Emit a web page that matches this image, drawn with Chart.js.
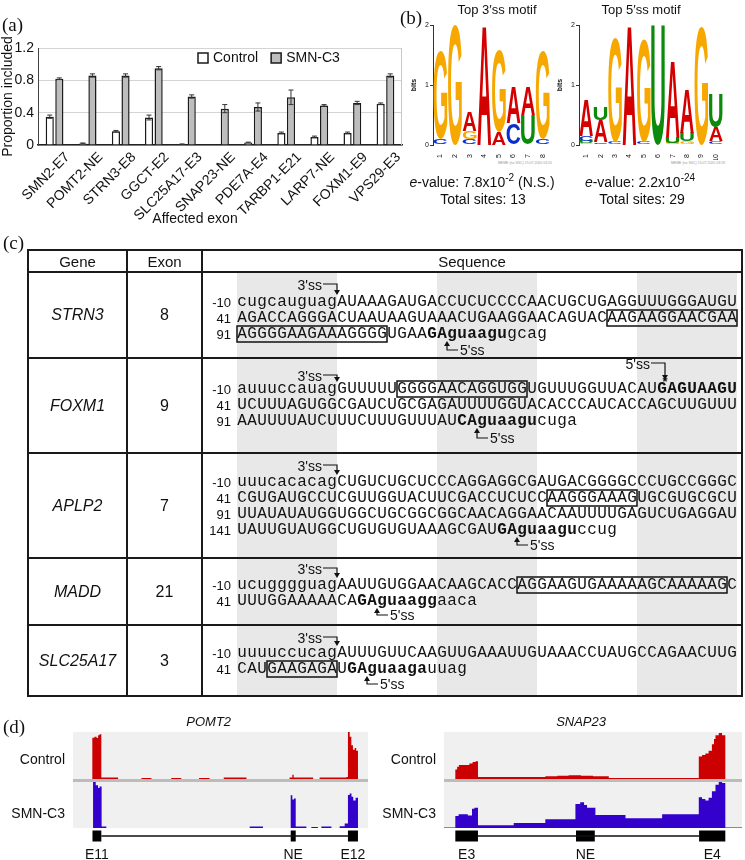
<!DOCTYPE html>
<html>
<head>
<meta charset="utf-8">
<script src="https://cdn.jsdelivr.net/npm/chart.js@4.4.1/dist/chart.umd.min.js"></script>
<style>
  body { margin: 0; background: #fff; }
  #page { position: relative; width: 745px; height: 860px; overflow: hidden; font-family: "Liberation Sans", Arial, sans-serif; color: #111; }
  canvas { position: absolute; }
  .t { position: absolute; white-space: nowrap; line-height: 1; }
  .panel { font-family: "Liberation Serif", "Times New Roman", serif; font-size: 19px; }
  .seq span { display: inline-block; width: 10px; text-align: center; }
  sup { font-size: 10px; line-height: 0; vertical-align: 6px; }
</style>
</head>
<body>
<div id="page"></div>
<script>
// (a) inclusion of affected exons
const exons = ["SMN2-E7", "POMT2-NE", "STRN3-E8", "GGCT-E2", "SLC25A17-E3", "SNAP23-NE", "PDE7A-E4", "TARBP1-E21", "LARP7-NE", "FOXM1-E9", "VPS29-E3"];
const controlVals = [0.35, 0.02, 0.17, 0.34, 0.01, 0.0, 0.03, 0.15, 0.10, 0.15, 0.51];
const controlErr = [0.02, 0.005, 0.01, 0.03, 0.003, 0, 0.005, 0.01, 0.01, 0.01, 0.01];
const smnVals = [0.82, 0.86, 0.86, 0.95, 0.60, 0.45, 0.47, 0.59, 0.49, 0.52, 0.86];
const smnErr = [0.01, 0.02, 0.02, 0.02, 0.02, 0.05, 0.05, 0.09, 0.01, 0.02, 0.02];
const yTicks = [0, 0.4, 0.8, 1.2];

// (b) motif logos: letters stacked bottom -> top, heights in bits
const logo3Letters = ["CG", "G", "CGA", "A", "AG", "CA", "UA", "CG"];
const logo3Heights = [[0.1, 1.48], [2.0], [0.1, 0.14, 0.33], [2.0], [0.22, 1.36], [0.36, 0.61], [0.5, 0.47], [0.1, 1.47]];
const logo5Letters = ["GUCA", "GCAU", "CG", "A", "CG", "U", "GUA", "GUA", "G", "CAU"];
const logo5Heights = [[0.03, 0.04, 0.08, 0.6], [0.02, 0.03, 0.36, 0.22], [0.04, 1.74], [2.0], [0.05, 1.72], [2.0], [0.04, 0.1, 1.28], [0.06, 0.14, 0.74], [1.98], [0.06, 0.24, 0.55]];

// (d) read coverage, [position % of window, relative height] step points
const pomt2Ctrl = [[0, 0], [6.55, 0.88], [7.3, 0.9], [8.0, 0.87], [8.5, 0.93], [9.0, 0.95], [9.6, 0.03], [15.3, 0],
  [23.2, 0.02], [26.6, 0], [33.3, 0.02], [36.7, 0], [42.7, 0.02], [46.3, 0], [51.1, 0.03], [58.8, 0],
  [73.4, 0.03], [74.35, 0.09], [74.8, 0.03], [81.4, 0], [83.6, 0.03], [92.7, 0.04],
  [93.2, 1.0], [93.8, 0.9], [94.35, 0.72], [94.9, 0.62], [95.5, 0.66], [96.0, 0.6], [96.6, 0], [100, 0]];
const pomt2Smn = [[0, 0], [6.8, 1.0], [7.7, 0.93], [8.5, 0.87], [9.0, 0.9], [9.7, 0.03], [11.3, 0],
  [59.9, 0.03], [64.4, 0], [73.8, 0.71], [74.35, 0.62], [74.9, 0.64], [75.5, 0.03], [79.1, 0], [80.8, 0.02], [83.0, 0],
  [84.2, 0.03], [87.6, 0], [90.4, 0.04], [92.1, 0.1], [93.2, 0.72], [93.8, 0.75], [94.4, 0.68], [95.0, 0.6], [95.8, 0.66], [96.6, 0], [100, 0]];
const snapCtrl = [[0, 0], [3.8, 0.2], [4.4, 0.26], [5.0, 0.3], [7.0, 0.3], [8.5, 0.33], [9.6, 0.36], [10.6, 0.38], [11.4, 0.04],
  [34.0, 0.06], [38.0, 0.07], [41.8, 0.08], [46.0, 0.07], [50.0, 0.06], [55.3, 0.02],
  [85.5, 0.48], [86.6, 0.51], [87.7, 0.54], [88.8, 0.6], [89.9, 0.74], [90.6, 0.85], [91.1, 0.93], [92.2, 0.98], [93.3, 0.93], [94.4, 0], [100, 0]];
const snapSmn = [[0, 0.01], [3.8, 0.26], [4.9, 0.3], [6.5, 0.3], [8.0, 0.27], [9.4, 0.42], [10.2, 0.44], [11.4, 0.06],
  [23.4, 0.11], [34.0, 0.19], [44.1, 0.52], [45.7, 0.56], [47.0, 0.5], [48.0, 0.44], [50.8, 0.28], [60.9, 0.21], [73.2, 0.3],
  [85.5, 0.67], [86.6, 0.63], [87.7, 0.6], [88.8, 0.66], [89.9, 0.8], [91.1, 0.94], [92.2, 1.0], [93.3, 0.98], [94.4, 0.01], [100, 0.01]];
const pomt2Exons = [[6.6, 9.6], [73.8, 75.5], [93.2, 96.6]];
const pomt2ExonNames = ["E11", "NE", "E12"];
const snapExons = [[3.8, 11.4], [44.3, 50.6], [85.6, 94.4]];
const snapExonNames = ["E3", "NE", "E4"];

Chart.defaults.font.family = '"Liberation Sans", Arial, sans-serif';
Chart.defaults.color = "#111";

const page = document.getElementById("page");

function txt(s, x, y, align, css) {
  const d = document.createElement("div");
  d.className = "t";
  d.innerHTML = s;
  d.style.left = x + "px";
  d.style.top = y + "px";
  const tx = align === "center" ? "-50%" : align === "right" ? "-100%" : "0";
  d.style.transform = "translate(" + tx + ",-50%)";
  if (css) d.style.cssText += css;
  page.appendChild(d);
  return d;
}

function makeCanvas(x, y, w, h) {
  const c = document.createElement("canvas");
  c.width = w;
  c.height = h;
  c.style.left = x + "px";
  c.style.top = y + "px";
  page.appendChild(c);
  return c;
}

// ---------- panel (a) ----------
const errorBars = {
  id: "errorBars",
  afterDatasetsDraw(chart) {
    const ctx = chart.ctx, y = chart.scales.y;
    chart.data.datasets.forEach((ds, i) => {
      chart.getDatasetMeta(i).data.forEach((bar, j) => {
        const e = ds.errors[j];
        if (!e) return;
        const v = ds.data[j];
        const top = y.getPixelForValue(v + e), bot = y.getPixelForValue(Math.max(0, v - e));
        ctx.save();
        ctx.strokeStyle = "#333";
        ctx.lineWidth = 1;
        ctx.beginPath();
        ctx.moveTo(bar.x, top); ctx.lineTo(bar.x, bot);
        ctx.moveTo(bar.x - 2.5, top); ctx.lineTo(bar.x + 2.5, top);
        ctx.moveTo(bar.x - 2.5, bot); ctx.lineTo(bar.x + 2.5, bot);
        ctx.stroke();
        ctx.restore();
      });
    });
  }
};

const xLabels = {
  id: "xLabels",
  afterDraw(chart) {
    const { ctx, chartArea } = chart, x = chart.scales.x;
    ctx.save();
    ctx.font = '14px "Liberation Sans", Arial';
    ctx.fillStyle = "#111";
    ctx.textAlign = "right";
    ctx.textBaseline = "middle";
    chart.data.labels.forEach((lab, i) => {
      ctx.save();
      ctx.translate(x.getPixelForValue(i) + 13, chartArea.bottom + 10);
      ctx.rotate(-Math.PI / 4);
      ctx.fillText(lab, 0, 0);
      ctx.restore();
    });
    ctx.restore();
  }
};

const legendBox = {
  id: "legendBox",
  afterDraw(chart) {
    const { ctx, chartArea } = chart;
    const y = chartArea.top + 10;
    let x = chartArea.left + 160;
    ctx.save();
    ctx.font = '14px "Liberation Sans", Arial';
    ctx.textBaseline = "middle";
    ctx.lineWidth = 1.5;
    chart.data.datasets.forEach((ds) => {
      ctx.fillStyle = ds.backgroundColor;
      ctx.strokeStyle = "#1a1a1a";
      ctx.fillRect(x, y - 5, 10, 10);
      ctx.strokeRect(x, y - 5, 10, 10);
      ctx.fillStyle = "#111";
      ctx.fillText(ds.label, x + 15, y);
      x += ctx.measureText(ds.label).width + 28;
    });
    ctx.restore();
  }
};

const rightBorder = {
  id: "rightBorder",
  afterDraw(chart) {
    const { ctx, chartArea } = chart;
    ctx.save();
    ctx.strokeStyle = "#c8c8c8";
    ctx.lineWidth = 1;
    ctx.beginPath();
    ctx.moveTo(chartArea.right - 0.5, chartArea.top);
    ctx.lineTo(chartArea.right - 0.5, chartArea.bottom);
    ctx.stroke();
    ctx.restore();
  }
};

new Chart(makeCanvas(0, 0, 410, 225), {
  type: "bar",
  data: {
    labels: exons,
    datasets: [
      { label: "Control", data: controlVals, errors: controlErr, backgroundColor: "#ffffff", borderColor: "#1a1a1a", borderWidth: 1.5 },
      { label: "SMN-C3", data: smnVals, errors: smnErr, backgroundColor: "#bdbdbd", borderColor: "#1a1a1a", borderWidth: 1.5 }
    ]
  },
  options: {
    responsive: false,
    animation: false,
    layout: { padding: { top: 48, right: 8 } },
    datasets: { bar: { categoryPercentage: 0.58, barPercentage: 0.85 } },
    plugins: { legend: { display: false }, tooltip: { enabled: false } },
    scales: {
      x: {
        grid: { display: false },
        border: { color: "#222", width: 1.5 },
        ticks: { display: false },
        afterFit: (s) => { s.height = 80; }
      },
      y: {
        min: 0, max: 1.2,
        ticks: {
          stepSize: 0.2, padding: 4, font: { size: 14 },
          callback: (v) => yTicks.find((t) => Math.abs(t - v) < 1e-6) !== undefined ? String(Math.round(v * 10) / 10) : ""
        },
        grid: { color: "#d4d4d4", drawTicks: false },
        border: { color: "#444", width: 1 },
        title: { display: true, text: "Proportion included", font: { size: 14 }, padding: 0 },
        afterFit: (s) => { s.width = 38; }
      }
    }
  },
  plugins: [errorBars, xLabels, legendBox, rightBorder]
});

txt("(a)", 2, 24, "left", "").className = "t panel";
txt("Affected exon", 195, 218, "center", "font-size:14px;");

// ---------- panel (b) ----------
const baseColors = { A: "#d40000", C: "#0a2ecc", G: "#f7a800", U: "#0b8a0b" };

const logoLetters = {
  id: "logoLetters",
  afterDatasetsDraw(chart) {
    const ctx = chart.ctx;
    chart.data.datasets.forEach((ds, i) => {
      chart.getDatasetMeta(i).data.forEach((el, j) => {
        const ch = ds.letters[j];
        if (!ch) return;
        const p = el.getProps(["x", "y", "base", "width"], true);
        const h = p.base - p.y;
        if (h < 0.5) return;
        ctx.save();
        ctx.font = 'bold 100px "Liberation Sans", Arial';
        ctx.textAlign = "left";
        ctx.textBaseline = "alphabetic";
        const m = ctx.measureText(ch);
        const gw = m.actualBoundingBoxLeft + m.actualBoundingBoxRight;
        const gh = m.actualBoundingBoxAscent + m.actualBoundingBoxDescent;
        ctx.translate(p.x - p.width / 2, p.y);
        ctx.scale(p.width / gw, h / gh);
        ctx.fillStyle = baseColors[ch];
        ctx.fillText(ch, m.actualBoundingBoxLeft, m.actualBoundingBoxAscent);
        ctx.restore();
      });
    });
  }
};

function logoChart(cv, letters, heights) {
  const depth = Math.max(...heights.map((h) => h.length));
  const datasets = [];
  for (let k = 0; k < depth; k++) {
    datasets.push({
      data: heights.map((h) => h[k] || 0),
      letters: letters.map((l) => l[k] || ""),
      backgroundColor: "rgba(0,0,0,0)",
      borderWidth: 0,
      barPercentage: 0.94,
      categoryPercentage: 1
    });
  }
  new Chart(cv, {
    type: "bar",
    data: { labels: heights.map((_, i) => String(i + 1)), datasets },
    options: {
      responsive: false,
      animation: false,
      layout: { padding: { top: 10, right: 5 } },
      plugins: { legend: { display: false }, tooltip: { enabled: false } },
      scales: {
        x: {
          stacked: true,
          grid: { display: false },
          border: { display: false },
          ticks: { font: { size: 7 }, minRotation: 90, maxRotation: 90, padding: 1, autoSkip: false },
          afterFit: (s) => { s.height = 15; }
        },
        y: {
          stacked: true, min: 0, max: 2,
          ticks: { stepSize: 1, font: { size: 7 }, padding: 1 },
          grid: { drawOnChartArea: false, tickLength: 3, color: "#333" },
          border: { color: "#333" },
          title: { display: true, text: "bits", font: { size: 7, weight: "bold" }, padding: 0 },
          afterFit: (s) => { s.width = 23; }
        }
      }
    },
    plugins: [logoLetters]
  });
}

logoChart(makeCanvas(410, 15, 145, 145), logo3Letters, logo3Heights);
logoChart(makeCanvas(556, 15, 172, 145), logo5Letters, logo5Heights);

txt("(b)", 400, 17, "left", "").className = "t panel";
txt("Top 3\u2032ss motif", 497, 9, "center", "font-size:13px;");
txt("Top 5\u2032ss motif", 641, 9, "center", "font-size:13px;");
txt("MEME (no SSC) 15.07.2020 03:20", 552, 164, "right", "font-size:3.5px;color:#999;");
txt("MEME (no SSC) 15.07.2020 03:18", 725, 164, "right", "font-size:3.5px;color:#999;");
txt("<i>e</i>-value: 7.8x10<sup>-2</sup> (N.S.)", 482, 182, "center", "font-size:14px;");
txt("Total sites: 13", 483, 199, "center", "font-size:14px;");
txt("<i>e</i>-value: 2.2x10<sup>-24</sup>", 640, 182, "center", "font-size:14px;");
txt("Total sites: 29", 642, 199, "center", "font-size:14px;");

// ---------- panel (c) ----------
const SEQ_X = 237;
const seqRows = [
  { gene: "STRN3", exon: "8", top: 272, bottom: 358, ss3: 285,
    lines: [
      { num: "-10", y: 302, s: "cugcauguagAUAAAGAUGACCUCUCCCCAACUGCUGAGGUUUGGGAUGU" },
      { num: "41", y: 318, s: "AGACCAGGGACUAAUAAGUAAACUGAAGGAACAGUACAAGAAGGAACGAA", box: [37, 13] },
      { num: "91", y: 334, s: "AGGGGAAGAAAGGGGUGAAGAguaagugcag", box: [0, 15], bold: [19, 8], ss5: 21 }
    ], ss5y: 350 },
  { gene: "FOXM1", exon: "9", top: 358, bottom: 453, ss3: 376, top5: { y: 364, idx: 42.8 },
    lines: [
      { num: "-10", y: 389, s: "auuuccauagGUUUUUGGGGAACAGGUGGUGUUUGGUUACAUGAGUAAGU", box: [16, 13], bold: [42, 8] },
      { num: "41", y: 405, s: "UCUUUAGUGGCGAUCUGCGAGAUUUUGGUACACCCAUCACCAGCUUGUUU" },
      { num: "91", y: 421, s: "AAUUUUAUCUUUCUUUGUUUAUCAguaagucuga", bold: [22, 8], ss5: 24 }
    ], ss5y: 438 },
  { gene: "APLP2", exon: "7", top: 453, bottom: 558, ss3: 466,
    lines: [
      { num: "-10", y: 482, s: "uuucacacagCUGUCUGCUCCCAGGAGGCGAUGACGGGGCCCUGCCGGGC" },
      { num: "41", y: 498, s: "CGUGAUGCCUCGUUGGUACUUCGACCUCUCCAAGGGAAAGUGCGUGCGCU", box: [31, 9] },
      { num: "91", y: 514, s: "UUAUAUAUGGUGGCUGCGGCGGCAACAGGAACAAUUUUGAGUCUGAGGAU" },
      { num: "141", y: 530, s: "UAUUGUAUGGCUGUGUGUAAAGCGAUGAguaaguccug", bold: [26, 8], ss5: 28 }
    ], ss5y: 545 },
  { gene: "MADD", exon: "21", top: 558, bottom: 625, ss3: 569,
    lines: [
      { num: "-10", y: 585, s: "ucugggguagAAUUGUGGAACAAGCACCAGGAAGUGAAAAAGCAAAAAGC", box: [28, 21] },
      { num: "41", y: 601, s: "UUUGGAAAAACAGAguaaggaaca", bold: [12, 8], ss5: 14 }
    ], ss5y: 615 },
  { gene: "SLC25A17", exon: "3", top: 625, bottom: 696, ss3: 638,
    lines: [
      { num: "-10", y: 653, s: "uuuuccucagAUUUGUUCAAGUUGAAAUUGUAAACCUAUGCCAGAACUUG" },
      { num: "41", y: 669, s: "CAUGAAGAGAUGAguaagauuag", box: [3, 7], bold: [11, 8], ss5: 13 }
    ], ss5y: 684 }
];

const NS = "http://www.w3.org/2000/svg";
const svg = document.createElementNS(NS, "svg");
svg.setAttribute("width", 745);
svg.setAttribute("height", 860);
svg.style.position = "absolute";
svg.style.left = "0";
svg.style.top = "0";
page.appendChild(svg);

function sv(tag, attrs) {
  const e = document.createElementNS(NS, tag);
  for (const k in attrs) e.setAttribute(k, attrs[k]);
  svg.appendChild(e);
  return e;
}

const TAB = { left: 28, right: 742, top: 250, head: 272, bottom: 696, c1: 127, c2: 202 };

// alternating 10-nt shading
for (let b = 0; b < 5; b += 2) {
  sv("rect", { x: SEQ_X + b * 100, y: TAB.head, width: 100, height: TAB.bottom - TAB.head, fill: "#e8e8e8" });
}

function seqLine(line) {
  const d = document.createElement("div");
  d.className = "t seq";
  d.style.left = SEQ_X + "px";
  d.style.top = (line.y - 8) + "px";
  d.style.font = '16px/16px "Liberation Mono", monospace';
  for (let i = 0; i < line.s.length; i++) {
    const sp = document.createElement("span");
    sp.textContent = line.s[i];
    if (line.bold && i >= line.bold[0] && i < line.bold[0] + line.bold[1]) sp.style.fontWeight = "bold";
    d.appendChild(sp);
  }
  page.appendChild(d);
  txt(line.num, 231, line.y, "right", "font-size:13px;");
  if (line.box) {
    sv("rect", { x: SEQ_X + line.box[0] * 10, y: line.y - 8, width: line.box[1] * 10, height: 16, fill: "none", stroke: "#111", "stroke-width": 1.5 });
  }
}

function arrowDown(x, yFrom, yTo, textY) {
  sv("path", { d: "M" + (x - 14) + " " + textY + " H" + x + " V" + (yTo - 4), fill: "none", stroke: "#111", "stroke-width": 1.2 });
  sv("polygon", { points: (x - 3) + "," + (yTo - 5) + " " + (x + 3) + "," + (yTo - 5) + " " + x + "," + yTo, fill: "#111" });
}

function arrowUp(x, tip, textY) {
  sv("path", { d: "M" + x + " " + (tip + 4) + " V" + textY + " H" + (x + 11), fill: "none", stroke: "#111", "stroke-width": 1.2 });
  sv("polygon", { points: (x - 3) + "," + (tip + 5) + " " + (x + 3) + "," + (tip + 5) + " " + x + "," + tip, fill: "#111" });
}

seqRows.forEach((row) => {
  const mid = (row.top + row.bottom) / 2;
  txt(row.gene, (TAB.left + TAB.c1) / 2, mid, "center", "font-size:16px;font-style:italic;");
  txt(row.exon, (TAB.c1 + TAB.c2) / 2, mid, "center", "font-size:16px;");
  // 3'ss marker at intron/exon boundary
  const x3 = SEQ_X + 100;
  txt("3'ss", x3 - 15, row.ss3, "right", "font-size:14px;");
  arrowDown(x3, row.ss3, row.lines[0].y - 7, row.ss3 - 1);
  if (row.top5) {
    const xt = SEQ_X + row.top5.idx * 10;
    txt("5'ss", xt - 15, row.top5.y, "right", "font-size:14px;");
    arrowDown(xt, row.top5.y, row.lines[0].y - 9, row.top5.y - 1);
    txt("*", xt, row.lines[0].y - 8, "center", "font-size:13px;font-weight:bold;");
  }
  row.lines.forEach((line) => {
    seqLine(line);
    if (line.ss5 !== undefined) {
      const x5 = SEQ_X + line.ss5 * 10;
      arrowUp(x5, line.y + 7, row.ss5y);
      txt("5'ss", x5 + 13, row.ss5y, "left", "font-size:14px;");
    }
  });
});

// table grid
const gridStyle = { stroke: "#1a1a1a", "stroke-width": 2 };
sv("rect", Object.assign({ x: TAB.left, y: TAB.top, width: TAB.right - TAB.left, height: TAB.bottom - TAB.top, fill: "none" }, gridStyle));
[TAB.c1, TAB.c2].forEach((x) => sv("line", Object.assign({ x1: x, y1: TAB.top, x2: x, y2: TAB.bottom }, gridStyle)));
[TAB.head].concat(seqRows.slice(1).map((r) => r.top)).forEach((y) => sv("line", Object.assign({ x1: TAB.left, y1: y, x2: TAB.right, y2: y }, gridStyle)));

txt("Gene", (TAB.left + TAB.c1) / 2, 261, "center", "font-size:15px;");
txt("Exon", (TAB.c1 + TAB.c2) / 2, 261, "center", "font-size:15px;");
txt("Sequence", (TAB.c2 + TAB.right) / 2, 261, "center", "font-size:15px;");
txt("(c)", 3, 242, "left", "").className = "t panel";

// ---------- panel (d) ----------
const trackBg = {
  id: "trackBg",
  beforeDraw(chart) {
    const { ctx, chartArea } = chart;
    ctx.save();
    ctx.fillStyle = "#f0f0f0";
    ctx.fillRect(chartArea.left, chartArea.top, chartArea.width, chartArea.height);
    ctx.restore();
  }
};

const flatOpts = (ymin, ymax) => ({
  responsive: false,
  animation: false,
  layout: { padding: 0 },
  plugins: { legend: { display: false }, tooltip: { enabled: false } },
  scales: {
    x: { type: "linear", min: 0, max: 100, display: false },
    y: { min: ymin, max: ymax, display: false }
  }
});

function trackChart(cv, pts, color) {
  new Chart(cv, {
    type: "line",
    data: {
      datasets: [{
        data: pts.map((p) => ({ x: p[0], y: p[1] })),
        stepped: true, fill: "origin",
        backgroundColor: color, borderColor: color, borderWidth: 0, pointRadius: 0
      }]
    },
    options: flatOpts(0, 1),
    plugins: [trackBg]
  });
}

function modelChart(cv, exonList) {
  const ends = [exonList[0][1], exonList[exonList.length - 1][0]];
  const datasets = [{ data: ends.map((x) => ({ x, y: 0 })), borderColor: "#111", borderWidth: 1.6, pointRadius: 0 }];
  exonList.forEach((e) => datasets.push({ data: e.map((x) => ({ x, y: 0 })), borderColor: "#000", borderWidth: 11, borderCapStyle: "butt", pointRadius: 0 }));
  new Chart(cv, { type: "line", data: { datasets }, options: flatOpts(-1, 1) });
}

function genePanel(x0, w, name, ctrl, smn, exonList, exonNames) {
  trackChart(makeCanvas(x0, 732, w, 47), ctrl, "#cc0000");
  const sep = document.createElement("div");
  sep.style.cssText = "position:absolute;left:" + x0 + "px;top:779px;width:" + w + "px;height:3px;background:#bcbcbc;";
  page.appendChild(sep);
  trackChart(makeCanvas(x0, 782, w, 46), smn, "#3300cc");
  modelChart(makeCanvas(x0, 828, w, 16), exonList);
  txt(name, x0 + w * 0.46, 721, "center", "font-size:13px;font-style:italic;");
  txt("Control", x0 - 8, 759, "right", "font-size:14px;");
  txt("SMN-C3", x0 - 8, 813, "right", "font-size:14px;");
  exonList.forEach((e, i) => txt(exonNames[i], x0 + w * (e[0] + e[1]) / 200, 854, "center", "font-size:14px;"));
}

genePanel(73, 295, "POMT2", pomt2Ctrl, pomt2Smn, pomt2Exons, pomt2ExonNames);
genePanel(444, 298, "SNAP23", snapCtrl, snapSmn, snapExons, snapExonNames);
txt("(d)", 3, 726, "left", "").className = "t panel";
</script>
</body>
</html>
